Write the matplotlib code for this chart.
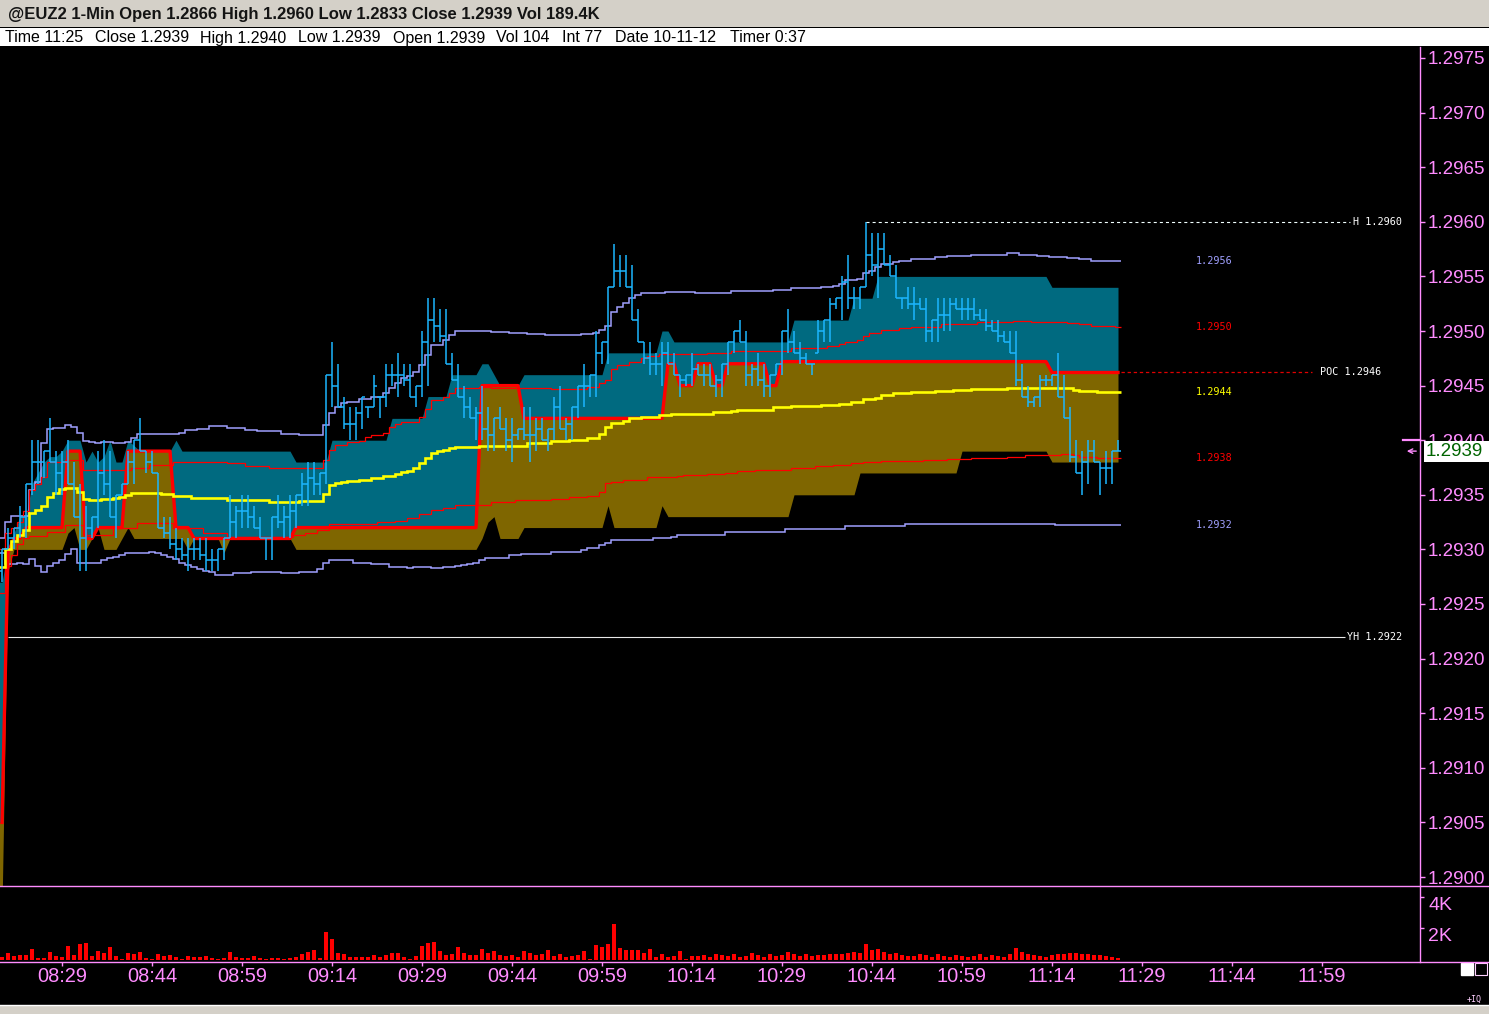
import numpy as np
import matplotlib
matplotlib.use("Agg")
import matplotlib.pyplot as plt
from matplotlib.collections import LineCollection
from matplotlib.lines import Line2D
from matplotlib.patches import Rectangle

plt.rcParams['lines.scale_dashes'] = False
plt.rcParams['font.family'] = ['Liberation Sans', 'DejaVu Sans']

W, H = 1489, 1014
BASE = 1.2900   # every price series below is given in pips above BASE
PIP = 0.0001

# ---------------- data (1-min bars 08:19 .. 11:25) ----------------
highs = [30, 32, 32, 34, 36, 40, 40, 39, 42, 39,
         39, 40, 38, 36, 34, 33, 39, 40, 39, 35,
         36, 39, 40, 42, 39, 39, 37, 33, 33, 32,
         31, 31, 31, 31, 31, 30, 30, 31, 35, 34,
         35, 35, 34, 33, 31, 33, 35, 34, 35, 35,
         37, 38, 38, 37, 46, 49, 47, 44, 43, 43,
         44, 43, 46, 44, 47, 47, 48, 47, 47, 45,
         50, 53, 53, 52, 52, 48, 47, 45, 44, 43,
         45, 43, 42, 43, 42, 42, 41, 43, 43, 42,
         42, 41, 44, 45, 42, 43, 45, 47, 46, 50,
         49, 54, 58, 57, 57, 56, 52, 49, 49, 48,
         49, 49, 48, 46, 46, 48, 47, 47, 47, 46,
         47, 49, 50, 51, 50, 47, 48, 47, 46, 47,
         50, 52, 50, 49, 48, 47, 51, 51, 53, 53,
         55, 57, 54, 54, 60, 59, 59, 59, 57, 56,
         53, 54, 54, 53, 53, 51, 53, 53, 53, 53,
         53, 53, 53, 52, 52, 51, 51, 50, 50, 50,
         47, 45, 44, 46, 46, 46, 48, 46, 43, 40,
         39, 40, 40, 38, 39, 39, 40]
lows = [27, 30, 30, 31, 31, 35, 36, 36.5, 38, 35,
        35, 36, 33, 28, 28, 31, 32, 35, 33, 31,
        35, 36, 36, 39, 37, 37, 32, 31, 30, 29,
        29, 28, 29, 29, 28, 28, 28, 29, 31, 31,
        32, 32, 32, 31, 29, 29, 32, 31, 31, 32,
        34, 34, 35, 35, 36, 43, 43, 41, 40, 40,
        41, 42, 43, 42, 43, 45, 44, 45, 44, 43,
        44, 45, 49, 49, 47, 45.5, 44, 42, 42, 40,
        40, 39, 39, 41, 39, 38, 40, 40, 38, 39,
        40, 39, 40, 41, 40, 40, 42, 43, 44, 44,
        47, 47, 54, 54, 54, 51, 49, 47, 46, 46,
        45, 47, 46, 44, 45, 45, 46, 45, 45, 44,
        44, 46, 48, 49, 45, 45, 45, 44, 44, 46,
        46, 48, 48, 47, 47, 46, 48, 49, 49, 52,
        51, 52, 52, 52, 54, 55, 53, 56, 55, 53,
        52, 52, 51, 52, 49, 49, 49, 50, 50, 52,
        51, 51, 51, 51, 50, 50, 49, 49, 48, 45,
        44, 43, 43, 43, 45, 45, 44, 42, 38, 37,
        35, 36, 38, 35, 36, 36, 39]
closes = [30, 31, 32, 33, 36, 38, 38, 39, 38, 37,
          38, 36, 33, 31, 32, 33, 37, 36, 33, 35,
          36, 38, 40, 39, 38, 37, 32, 31.5, 30.5, 30,
          29.5, 30, 30, 29.5, 29, 29, 30, 31, 32.5, 33.5,
          33.5, 33, 32, 31, 31, 33, 32.5, 33, 33.5, 35,
          36, 36.5, 36, 37, 46, 45, 43, 41.5, 41.5, 42.5,
          44, 43, 45, 44, 46, 46, 46, 45.5, 44, 45,
          49, 51, 50.5, 49.5, 47, 45.5, 44, 43, 42, 42.5,
          41, 40.5, 42, 41, 40, 40.5, 41, 40.5, 40.5, 41,
          40, 41, 43, 41, 41.5, 43, 45, 45, 46, 48,
          49, 54, 55.5, 55.5, 54, 51, 49, 47.5, 47, 47,
          48, 47, 46, 45.5, 46, 46.5, 46, 46, 45, 45.5,
          47, 49, 50, 49, 46, 46.5, 45.5, 45, 46, 47,
          50, 49, 48, 47.5, 47, 47, 50, 51, 52.5, 53,
          54.5, 53, 53, 54, 57, 56, 57.5, 56, 55, 53,
          53, 52.5, 52.5, 52, 50, 51, 51.5, 51.5, 52.5, 52,
          52, 52, 51.5, 51, 50.5, 50, 49.5, 49, 48, 45.5,
          44, 43.5, 44, 45.5, 45.5, 46, 44, 42, 38.5, 37,
          38, 39, 38, 37.5, 37.5, 39, 39]
first_open = 28

volume = [168, 442, 253, 295, 295, 674, 105, 105, 484, 232,
          168, 884, 316, 1010, 1053, 253, 568, 442, 821, 232,
          63, 442, 379, 505, 105, 63, 379, 253, 295, 168,
          42, 253, 168, 210, 253, 105, 63, 105, 505, 168,
          126, 126, 253, 147, 84, 126, 126, 84, 126, 210,
          379, 526, 632, 126, 1768, 1326, 442, 379, 189, 189,
          189, 189, 316, 189, 316, 442, 442, 189, 63, 232,
          884, 1074, 1137, 568, 316, 379, 821, 442, 316, 316,
          674, 442, 568, 295, 253, 316, 189, 568, 442, 316,
          400, 632, 253, 379, 189, 253, 295, 568, 63, 947,
          821, 1010, 2273, 758, 632, 632, 632, 442, 695, 189,
          379, 189, 253, 568, 63, 253, 250, 320, 180, 400,
          300, 250, 350, 200, 280, 450, 300, 220, 380, 260,
          300, 500, 400, 280, 350, 250, 320, 300, 400, 350,
          380, 450, 500, 420, 1000, 650, 700, 500, 380, 450,
          300, 280, 250, 400, 300, 220, 350, 280, 200, 300,
          250, 220, 280, 350, 200, 300, 260, 220, 400, 750,
          500, 350, 300, 250, 220, 300, 350, 400, 450, 420,
          380, 350, 320, 300, 250, 200, 150]

# indicator lines as (value in pips, number of bars)
poc_runs = [(5, 1), (29.7, 1), (31, 2), (32, 7), (39, 3), (31, 2), (32, 5), (39, 8),
            (32, 3), (31, 17), (32, 31), (45, 7), (42, 24), (47, 2), (45, 3), (47, 3),
            (45, 2), (47, 7), (45, 2), (47.2, 45), (46.2, 12)]
vah_runs = [(27, 1), (30, 1), (31.5, 1), (33, 2), (36, 1), (37, 1), (38, 1), (38.5, 2),
            (39, 1), (40, 3), (38, 1), (39, 1), (38, 1), (38.5, 1), (40, 1), (38, 2),
            (40, 1), (39.5, 1), (39, 6), (40, 1), (39, 19), (38, 6), (40, 10), (42, 6),
            (44, 4), (46, 5), (47, 2), (46, 1), (45, 4), (46, 14), (48, 9), (50, 2),
            (49, 20), (51, 10), (53, 4), (55, 29), (54, 12)]
val_runs = [(-3, 1), (28, 1), (30, 9), (31.5, 1), (32, 1), (30, 2), (31, 1), (32, 1),
            (30, 3), (31, 1), (32, 1), (31, 9), (30, 1), (31, 5), (29.7, 1), (31, 11),
            (30, 31), (31, 1), (32.5, 1), (33, 1), (31, 4), (32, 14), (34, 1), (32, 8),
            (34, 1), (33, 21), (35, 11), (37, 17), (39, 15), (38, 12)]
vwap_runs = [(28.4, 1), (30, 1), (30.8, 1), (31.3, 1), (31.8, 1), (33.3, 1), (33.6, 1),
             (34, 1), (34.8, 1), (35.2, 1), (35.5, 1), (35.6, 2), (35.3, 1), (34.6, 1),
             (34.5, 2), (34.6, 2), (34.7, 1), (34.8, 1), (35, 1), (35.2, 5), (35.1, 2),
             (34.9, 3), (34.7, 6), (34.5, 7), (34.3, 5), (34.4, 4), (35.1, 1), (35.9, 1),
             (36.1, 1), (36.2, 1), (36.3, 2), (36.4, 2), (36.5, 2), (36.7, 2), (36.9, 1),
             (37.1, 1), (37.2, 1), (37.5, 1), (37.9, 1), (38.4, 1), (38.8, 1), (39, 1),
             (39.1, 1), (39.3, 1), (39.4, 4), (39.5, 8), (39.7, 4), (39.9, 3), (40, 3),
             (40.2, 2), (40.6, 1), (41.2, 1), (41.6, 2), (41.8, 1), (42, 2), (42.1, 3),
             (42.3, 2), (42.4, 7), (42.6, 3), (42.7, 1), (42.8, 6), (43, 3), (43.1, 5),
             (43.2, 3), (43.35, 2), (43.5, 2), (43.8, 2), (43.9, 1), (44.1, 2), (44.3, 3),
             (44.4, 4), (44.5, 3), (44.6, 3), (44.7, 6), (44.8, 11), (44.6, 1), (44.5, 3),
             (44.4, 4)]
upper1_runs = [(30, 1), (31.5, 1), (32, 1), (32.5, 1), (33.5, 1), (35.4, 1), (36, 1),
               (36.6, 1), (38, 3), (38.2, 3), (37.3, 8), (37.5, 3), (37.7, 4), (38, 9),
               (37.9, 3), (37.6, 4), (37.5, 9), (38.2, 1), (39.1, 1), (39.6, 2), (39.8, 2),
               (39.9, 1), (40.3, 1), (40.5, 2), (40.7, 1), (41.2, 1), (41.5, 1), (41.7, 3),
               (42.1, 1), (42.9, 1), (43.7, 2), (44, 1), (44.3, 1), (44.8, 4), (44.9, 2),
               (44.8, 10), (44.7, 6), (44.9, 2), (45.2, 1), (45.5, 1), (46.5, 1), (46.9, 2),
               (47.2, 2), (47.5, 1), (47.7, 2), (47.9, 8), (48, 4), (48.2, 10), (48.4, 6),
               (48.6, 2), (48.8, 1), (49, 2), (49.2, 1), (49.5, 1), (49.8, 2), (50.1, 3),
               (50.3, 2), (50.4, 5), (50.6, 6), (50.8, 6), (50.9, 3), (50.8, 6), (50.7, 2),
               (50.6, 2), (50.5, 4), (50.4, 1)]
lower1_runs = [(26, 1), (28.5, 1), (29.5, 1), (30.5, 1), (31, 1), (31.2, 3), (31.6, 3),
               (32.2, 3), (31.3, 5), (32, 4), (32.4, 6), (32, 5), (31.5, 4), (31.1, 11),
               (31.3, 2), (31.5, 2), (31.8, 2), (32.3, 8), (32.5, 3), (32.6, 2), (32.9, 2),
               (33.2, 2), (33.6, 2), (33.8, 2), (34.1, 6), (34.3, 4), (34.5, 6), (34.6, 3),
               (34.8, 3), (34.9, 2), (35.3, 1), (36.1, 1), (36.2, 2), (36.4, 4), (36.6, 5),
               (36.7, 1), (36.8, 4), (36.9, 3), (37, 2), (37.2, 3), (37.3, 6), (37.5, 4),
               (37.6, 3), (37.7, 3), (37.9, 2), (38, 3), (38.1, 7), (38.2, 4), (38.3, 4),
               (38.4, 6), (38.5, 3), (38.6, 6), (38.7, 2), (38.6, 1), (38.5, 3), (38.4, 4)]
upper2_runs = [(31, 1), (32.5, 1), (33.1, 3), (35.4, 1), (36.2, 1), (39.7, 1), (41, 1),
               (41.1, 2), (41.4, 1), (41.2, 1), (40.7, 1), (39.9, 1), (39.8, 1), (39.7, 1),
               (39.8, 2), (39.7, 2), (39.8, 1), (40.2, 1), (40.6, 7), (40.7, 1), (40.9, 2),
               (41, 2), (41.3, 3), (41.1, 3), (40.9, 2), (40.8, 4), (40.6, 3), (40.5, 4),
               (41.4, 1), (42.5, 1), (43, 1), (43.4, 1), (43.5, 2), (43.8, 2), (44, 2),
               (44.3, 1), (44.8, 1), (45.2, 1), (45.7, 1), (45.9, 1), (46.2, 1), (46.9, 1),
               (47.8, 1), (48.7, 2), (49.2, 1), (49.6, 1), (50, 6), (49.9, 3), (49.8, 3),
               (49.7, 3), (49.6, 6), (49.7, 2), (49.8, 1), (50.1, 1), (50.5, 1), (51.7, 1),
               (52.2, 1), (52.6, 1), (53, 1), (53.3, 1), (53.5, 4), (53.6, 5), (53.5, 6),
               (53.7, 7), (53.8, 3), (53.9, 5), (54, 2), (54.1, 1), (54.3, 1), (54.7, 2),
               (54.8, 1), (55.3, 1), (55.5, 1), (55.9, 1), (56.1, 2), (56.3, 1), (56.4, 2),
               (56.6, 4), (56.8, 2), (56.9, 4), (57, 6), (57.1, 2), (57, 3), (56.9, 2),
               (56.8, 3), (56.7, 2), (56.6, 2), (56.4, 5)]
lower2_runs = [(29.7, 1), (28.7, 2), (28.8, 1), (28.7, 1), (29.1, 1), (28.5, 1), (27.9, 1),
               (28.5, 1), (28.8, 1), (29, 1), (29.6, 1), (30, 1), (28.8, 4), (29, 1),
               (29.2, 1), (29.3, 1), (29.5, 1), (29.7, 4), (29.8, 1), (29.7, 1), (29.5, 1),
               (29.3, 1), (29.1, 1), (28.8, 1), (28.6, 1), (28.4, 1), (28.2, 1), (28, 1),
               (27.9, 1), (27.7, 3), (27.8, 3), (27.9, 5), (27.8, 3), (27.9, 3), (28.2, 1),
               (28.8, 1), (29, 4), (28.8, 3), (28.7, 3), (28.4, 3), (28.3, 1), (28.4, 3),
               (28.3, 2), (28.4, 2), (28.5, 1), (28.6, 1), (28.7, 1), (28.8, 1), (29, 1),
               (29.2, 4), (29.5, 2), (29.6, 5), (29.8, 5), (29.9, 1), (30.1, 2), (30.4, 1),
               (30.6, 1), (30.9, 7), (31, 3), (31.1, 1), (31.3, 8), (31.6, 10), (31.9, 10),
               (32.1, 10), (32.3, 25), (32.2, 11)]

time_labels = ['08:29', '08:44', '08:59', '09:14', '09:29', '09:44', '09:59',
               '10:14', '10:29', '10:44', '10:59', '11:14', '11:29', '11:44', '11:59']
time_bars = [10, 25, 40, 55, 70, 85, 100, 115, 130, 145, 160, 175, 190, 205, 220]

symbol = '@EUZ2 1-Min'
day_open, day_low, day_vol = 1.2866, 1.2833, '189.4K'
yest_high = 1.2922
info = [('Time 11:25', 5), ('Close 1.2939', 95), ('High 1.2940', 200), ('Low 1.2939', 298),
        ('Open 1.2939', 393), ('Vol 104', 496), ('Int 77', 562), ('Date 10-11-12', 615),
        ('Timer 0:37', 730)]

# ---------------- colours ----------------
TEAL = '#006a80'
OLIVE = '#7f6600'
RED = '#ff0000'
YEL = '#ffff00'
LAV = '#a0a0ff'
CYAN = '#1cb6ff'
PINK = '#ff8cff'
GREY = '#d4d0c8'


def expand(runs):
    return np.repeat([v for v, n in runs], [n for v, n in runs]).astype(float)


def price(p):
    return BASE + np.asarray(p, dtype=float) * PIP


def frect(x0, y0, x1, y1):
    return [x0 / W, 1 - y1 / H, (x1 - x0) / W, (y1 - y0) / H]


def xi(xpx):
    # pixel column -> bar index (bars are 6 px apart, first one at x=2)
    return (xpx - 2) / 6.0


def main():
    poc = expand(poc_runs)
    vah = expand(vah_runs)
    val = expand(val_runs)
    vwap = expand(vwap_runs)
    up1, lo1 = expand(upper1_runs), expand(lower1_runs)
    up2, lo2 = expand(upper2_runs), expand(lower2_runs)
    hi = np.array(highs, float)
    lo = np.array(lows, float)
    cl = np.array(closes, float)
    op = np.clip(np.r_[first_open, cl[:-1]], lo, hi)
    n = len(hi)
    idx = np.arange(n)
    edges = np.arange(n + 1) - 0.5

    fig = plt.figure(figsize=(W / 100, H / 100), dpi=100, facecolor='black')

    ax = fig.add_axes(frect(0, 47, 1420, 886), facecolor='black')
    ax.set_xlim(xi(0), xi(1420))
    ax.set_ylim(price((877 - 886) / 10.92), price((877 - 47) / 10.92))
    for s in ax.spines.values():
        s.set_visible(False)

    # value area: teal above the POC, olive below it (first bar held half a bar to the left)
    xf = np.r_[-0.5, idx]
    ax.fill_between(xf, price(np.r_[poc[0], poc]), price(np.r_[vah[0], vah]),
                    color=TEAL, lw=0, zorder=1)
    ax.fill_between(xf, price(np.r_[val[0], val]), price(np.r_[poc[0], poc]),
                    color=OLIVE, lw=0, zorder=1)

    for ser, col, lw in [(up2, LAV, 1.1), (lo2, LAV, 1.1), (up1, RED, 0.9), (lo1, RED, 0.9)]:
        ax.stairs(price(ser), edges, baseline=None, color=col, lw=lw, zorder=2)
    ax.plot(idx, price(poc), color=RED, lw=2.4, zorder=3)
    ax.stairs(price(vwap), edges, baseline=None, color=YEL, lw=1.9, zorder=4)

    # OHLC bars
    segs = []
    for i in range(n):
        segs.append([(i, price(lo[i])), (i, price(hi[i]))])
        segs.append([(i - 0.42, price(op[i])), (i, price(op[i]))])
        segs.append([(i, price(cl[i])), (i + 0.42, price(cl[i]))])
    ax.add_collection(LineCollection(segs, colors=CYAN, linewidths=1.1, zorder=5))

    # reference levels
    hi_i = int(np.argmax(hi))
    ax.hlines(price(hi[hi_i]), hi_i, xi(1350), colors='#f0ffff', lw=0.8,
              linestyles=(0, (2.2, 2.2)), zorder=6)
    ax.text(xi(1353), price(hi[hi_i]), 'H %.4f' % price(hi[hi_i]), color='white',
            family='DejaVu Sans Mono', fontsize=7.3, va='center', ha='left')
    ax.hlines(price(poc[-1]), xi(1121), xi(1312), colors='#e00000', lw=0.9,
              linestyles=(0, (2.4, 2.0)), zorder=6)
    ax.text(xi(1320), price(poc[-1]), 'POC %.4f' % price(poc[-1]), color='white',
            family='DejaVu Sans Mono', fontsize=7.3, va='center', ha='left')
    ax.hlines(yest_high, xi(8), xi(1345), colors='#e8e8e8', lw=0.8, zorder=6)
    ax.text(xi(1347), yest_high, 'YH %.4f' % yest_high, color='white',
            family='DejaVu Sans Mono', fontsize=7.3, va='center', ha='left')
    for ser, col in [(up2, LAV), (up1, RED), (vwap, YEL), (lo1, RED), (lo2, LAV)]:
        ax.text(xi(1196), price(ser[-1]), '%.4f' % price(ser[-1]), color=col,
                family='DejaVu Sans Mono', fontsize=7.3, va='center', ha='left')

    # price axis on the right
    yt = np.round(np.arange(1.2900, 1.29751, 0.0005), 4)
    ax.set_yticks(yt)
    ax.set_yticklabels(['%.4f' % t for t in yt])
    ax.yaxis.tick_right()
    ax.tick_params(axis='y', colors=PINK, labelcolor=PINK, labelsize=13.5,
                   length=3.5, width=1, pad=2)
    ax.set_xticks([])

    # last bar markers
    ax.plot([xi(1403), xi(1420)], [price(hi[-1])] * 2, color=PINK, lw=1.6, clip_on=False)
    ax.annotate('', xy=(xi(1404), price(cl[-1])), xytext=(xi(1419), price(cl[-1])),
                arrowprops=dict(arrowstyle='->', color=PINK, lw=1, mutation_scale=8),
                annotation_clip=False)
    y_disp = ax.transData.transform((0, price(cl[-1])))[1]
    fig.add_artist(Rectangle((1424 / W, (y_disp - 10.5) / H), 65 / W, 21 / H,
                             transform=fig.transFigure, fc='white', ec='none', zorder=5))
    fig.text(1426 / W, y_disp / H, '%.4f' % price(cl[-1]), color='#006400',
             fontsize=13.5, va='center', ha='left', zorder=6)

    # volume panel
    axv = fig.add_axes(frect(0, 886, 1420, 962), facecolor='black')
    axv.bar(idx, volume, width=0.6, color=RED, lw=0)
    axv.set_xlim(xi(0), xi(1420))
    axv.set_ylim(-126, 4669)
    for s in axv.spines.values():
        s.set_visible(False)
    axv.yaxis.tick_right()
    axv.set_yticks([2000, 4000])
    axv.set_yticklabels(['2K', '4K'])
    axv.tick_params(axis='y', colors=PINK, labelcolor=PINK, labelsize=14,
                    length=3, width=1, pad=3)
    for lbl in axv.get_yticklabels():
        lbl.set_verticalalignment('top')
    axv.set_xticks(time_bars)
    axv.set_xticklabels(time_labels)
    axv.tick_params(axis='x', colors=PINK, labelcolor=PINK, labelsize=14.4,
                    length=3, width=1, pad=0.5)

    # frame lines
    fig.add_artist(Line2D([0, 1], [1 - 886 / H] * 2, color=PINK, lw=1))
    fig.add_artist(Line2D([0, 1], [1 - 962 / H] * 2, color=PINK, lw=1))
    fig.add_artist(Line2D([1420 / W] * 2, [1 - 47 / H, 1 - 962 / H], color=PINK, lw=1))

    # header strips
    fig.add_artist(Rectangle((0, 1 - 27 / H), 1, 27 / H, transform=fig.transFigure,
                             fc=GREY, ec='none'))
    fig.add_artist(Rectangle((0, 1 - 46 / H), 1, 18 / H, transform=fig.transFigure,
                             fc='white', ec='none'))
    title = '%s Open %.4f High %.4f Low %.4f Close %.4f Vol %s' % (
        symbol, day_open, price(hi.max()), day_low, price(cl[-1]), day_vol)
    fig.text(8 / W, 1 - 14 / H, title, fontsize=12, weight='bold', color='#141414',
             va='center', ha='left')
    for txt, x in info:
        fig.text(x / W, 1 - 38 / H, txt, fontsize=11.5,
                 family=['Liberation Sans Narrow', 'Liberation Sans'],
                 color='black', va='center', ha='left')

    # bottom strip and corner widgets
    fig.add_artist(Rectangle((0, 0), 1, 9 / H, transform=fig.transFigure, fc=GREY, ec='none'))
    fig.add_artist(Line2D([0, 1], [9 / H] * 2, color='white', lw=1))
    fig.add_artist(Rectangle((1461 / W, 1 - 975 / H), 12 / W, 12 / H,
                             transform=fig.transFigure, fc='white', ec='white'))
    fig.add_artist(Rectangle((1475 / W, 1 - 975 / H), 12 / W, 12 / H,
                             transform=fig.transFigure, fc='none', ec='#ffd0ff', lw=0.8))
    fig.text(1467 / W, 1 - 999 / H, '+IQ', color='#ffd0ff', fontsize=6,
             family='DejaVu Sans Mono', va='center', ha='left')

    fig.savefig('out.png', dpi=100, facecolor='black')


if __name__ == '__main__':
    main()
